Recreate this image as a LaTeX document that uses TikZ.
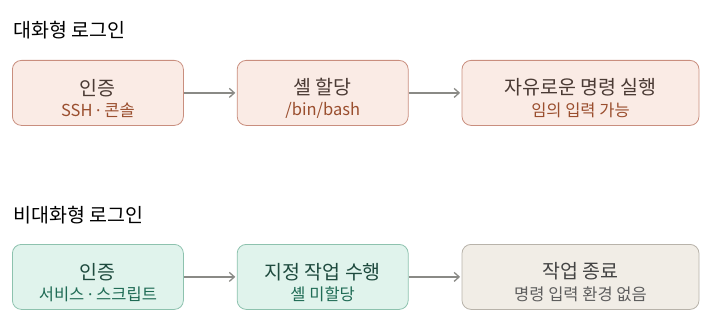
\documentclass[tikz,border=0pt]{standalone}
\usepackage{fontspec}
\setmainfont{Noto Sans CJK KR}
\newfontfamily\dotfont{Noto Sans}
\usepackage{xcolor}
\usetikzlibrary{arrows.meta,positioning}
\definecolor{warmFill}{HTML}{FAEBE5}
\definecolor{warmLine}{HTML}{C98E7E}
\definecolor{warmText}{HTML}{4A3A34}
\definecolor{warmSub}{HTML}{9A4E2E}
\definecolor{mintFill}{HTML}{E0F3EC}
\definecolor{mintLine}{HTML}{8DC2AE}
\definecolor{mintText}{HTML}{1E4A3E}
\definecolor{mintSub}{HTML}{1F6B55}
\definecolor{sandFill}{HTML}{F1EDE6}
\definecolor{sandLine}{HTML}{B8B3AA}
\definecolor{sandText}{HTML}{444444}
\definecolor{sandSub}{HTML}{5E5E5E}
\definecolor{wireGray}{HTML}{8A8A86}
\newcommand\subline[2]{{\fontsize{16.5}{18}\selectfont\color{#1}#2}}
\newcommand\middot{{\dotfont ·}}
\newcommand\lift{\rule{0pt}{27pt}}

\begin{document}
\begin{tikzpicture}[
    x=1pt, y=1pt,
    node distance=53pt,
    font=\fontsize{19.5}{21.5}\selectfont,
    box/.style={rounded corners=9pt, minimum width=171pt, minimum height=65pt, align=center, inner sep=0pt, line width=0.8pt},
    wide/.style={minimum width=237pt},
    warm/.style={box, draw=warmLine, fill=warmFill, text=warmText},
    mint/.style={box, draw=mintLine, fill=mintFill, text=mintText},
    sand/.style={box, draw=sandLine, fill=sandFill, text=sandText},
    heading/.style={anchor=west, inner sep=0pt, font=\fontsize{19.5}{22}\selectfont},
    wire/.style={draw=wireGray, line width=1.3pt, shorten >=1.5pt, -{Straight Barb[length=5pt, width=9pt]}}
  ]
    \useasboundingbox (0,0) rectangle (712,330);

    % interactive
    \node[heading] (titleA) at (13,300) {대화형 로그인};
    \node[warm, anchor=north west] (authA) at (12,270) {\lift 인증\\\subline{warmSub}{SSH \middot{} 콘솔}};
    \node[warm, right=of authA] (shellA) {\lift 셸 할당\\\subline{warmSub}{/bin/bash}};
    \node[warm, wide, right=of shellA] (runA) {\lift 자유로운 명령 실행\\\subline{warmSub}{임의 입력 가능}};
    \draw[wire] (authA) -- (shellA);
    \draw[wire] (shellA) -- (runA);

    % non-interactive
    \node[heading] (titleB) at (13,115) {비대화형 로그인};
    \node[mint, anchor=north west] (authB) at (12,86) {\lift 인증\\\subline{mintSub}{서비스 \middot{} 스크립트}};
    \node[mint, right=of authB] (jobB) {\lift 지정 작업 수행\\\subline{mintSub}{셸 미할당}};
    \node[sand, wide, right=of jobB] (endB) {\lift 작업 종료\\\subline{sandSub}{명령 입력 환경 없음}};
    \draw[wire] (authB) -- (jobB);
    \draw[wire] (jobB) -- (endB);
\end{tikzpicture}
\end{document}
